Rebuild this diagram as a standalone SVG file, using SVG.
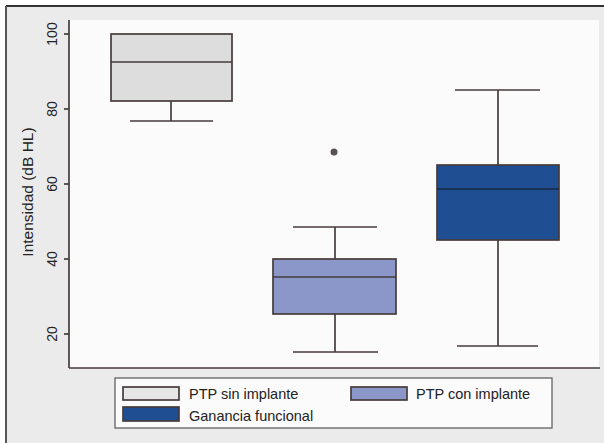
<svg xmlns="http://www.w3.org/2000/svg" width="604" height="443" viewBox="0 0 604 443">
<style>
.ln{stroke:#463b3b;stroke-width:1.7;fill:none}
.bx{stroke:#463b3b;stroke-width:1.7}
.tk{font-family:"Liberation Sans",Arial,sans-serif;font-size:14px;fill:#222}
.ttl{font-family:"Liberation Sans",Arial,sans-serif;font-size:15.5px;fill:#222}
.lg{font-family:"Liberation Sans",Arial,sans-serif;font-size:14.5px;fill:#222}
</style>
<rect x="0" y="0" width="604" height="443" fill="#ffffff"/>
<rect x="6" y="6" width="598" height="437" fill="#ebebeb"/>
<line x1="6" y1="6" x2="604" y2="6" stroke="#333" stroke-width="2"/>
<line x1="6" y1="6" x2="6" y2="443" stroke="#555" stroke-width="2"/>
<rect x="69" y="20" width="530" height="348" fill="#fbfbfb"/>
<g id="axes">
<line class="ln" x1="69" y1="20" x2="69" y2="368"/>
<line class="ln" x1="69" y1="368" x2="600" y2="368"/>
<line class="ln" x1="64" y1="34" x2="69" y2="34"/>
<line class="ln" x1="64" y1="109" x2="69" y2="109"/>
<line class="ln" x1="64" y1="184" x2="69" y2="184"/>
<line class="ln" x1="64" y1="259" x2="69" y2="259"/>
<line class="ln" x1="64" y1="334" x2="69" y2="334"/>
<text class="tk" transform="translate(57,34) rotate(-90)" text-anchor="middle">100</text>
<text class="tk" transform="translate(57,109) rotate(-90)" text-anchor="middle">80</text>
<text class="tk" transform="translate(57,184) rotate(-90)" text-anchor="middle">60</text>
<text class="tk" transform="translate(57,259) rotate(-90)" text-anchor="middle">40</text>
<text class="tk" transform="translate(57,334) rotate(-90)" text-anchor="middle">20</text>
<text class="ttl" transform="translate(33,192) rotate(-90)" text-anchor="middle">Intensidad (dB HL)</text>
</g>
<g id="box-sin-implante">
<line class="ln" x1="171" y1="101" x2="171" y2="121"/>
<line class="ln" x1="130" y1="121" x2="213" y2="121"/>
<rect class="bx" x="111" y="34" width="121" height="67" fill="#dddddd"/>
<line class="ln" x1="111" y1="62" x2="232" y2="62"/>
</g>
<g id="box-con-implante">
<line class="ln" x1="335" y1="227" x2="335" y2="259"/>
<line class="ln" x1="335" y1="314" x2="335" y2="352"/>
<line class="ln" x1="293" y1="227" x2="377" y2="227"/>
<line class="ln" x1="293" y1="352" x2="378" y2="352"/>
<rect class="bx" x="273" y="259" width="123" height="55" fill="#8c97c9"/>
<line class="ln" x1="273" y1="277" x2="396" y2="277"/>
<circle cx="334" cy="152" r="3.5" fill="#5a4f52"/>
</g>
<g id="box-ganancia">
<line class="ln" x1="498" y1="90" x2="498" y2="165"/>
<line class="ln" x1="498" y1="240" x2="498" y2="346"/>
<line class="ln" x1="455" y1="90" x2="540" y2="90"/>
<line class="ln" x1="457" y1="346" x2="538" y2="346"/>
<rect class="bx" x="437" y="165" width="122" height="75" fill="#1f4e93"/>
<line x1="437" y1="189" x2="559" y2="189" stroke="#1a2a40" stroke-width="1.7"/>
</g>
<g id="legend">
<rect x="115" y="378" width="437" height="50" fill="#fbfbfb" stroke="#555" stroke-width="1.2"/>
<rect class="bx" x="123" y="387" width="56" height="13" fill="#e6e6e6"/>
<text class="lg" x="189" y="399">PTP sin implante</text>
<rect class="bx" x="351" y="387" width="56" height="13" fill="#8c97c9"/>
<text class="lg" x="416" y="399">PTP con implante</text>
<rect class="bx" x="123" y="407" width="56" height="14" fill="#1f4e93"/>
<text class="lg" x="189" y="421">Ganancia funcional</text>
</g>
</svg>
